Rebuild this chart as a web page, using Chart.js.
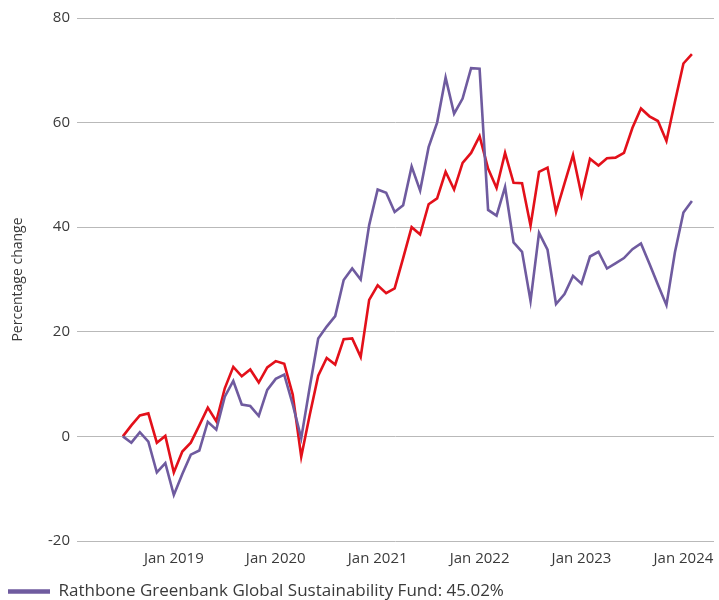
<!DOCTYPE html>
<html>
<head>
<meta charset="utf-8">
<title>Percentage change</title>
<script src="https://cdn.jsdelivr.net/npm/chart.js@4.4.1/dist/chart.umd.min.js"></script>
<style>
  html, body { margin: 0; padding: 0; background: #fff; overflow: hidden; }
  #wrap { width: 719px; height: 610px; }
</style>
</head>
<body>
<div id="wrap"><canvas id="chart"></canvas></div>
<script>
// Month-end values, Jun 2018 .. Jan 2024 (percentage change since start)
const startYear = 2018;
const startMonth = 7; // first point sits on the 1 Jul 2018 boundary

const fundLabel = 'Rathbone Greenbank Global Sustainability Fund: 45.02%';
const benchmarkLabel = 'Benchmark';

const fundValues = [
  0, -1.2, 0.8, -1.0, -6.9, -5.1, -11.2, -7.2, -3.5, -2.7, 2.8, 1.3,
  7.6, 10.6, 6.1, 5.8, 3.9, 8.9, 11.0, 11.8, 6.1, -0.35, 9.4, 18.7,
  21.0, 23.0, 29.9, 32.1, 30.0, 40.4, 47.2, 46.6, 42.9, 44.2, 51.6, 47.0,
  55.3, 60.0, 68.6, 61.7, 64.6, 70.4, 70.3, 43.3, 42.2, 47.7, 37.1, 35.3,
  25.9, 38.9, 35.7, 25.3, 27.2, 30.7, 29.2, 34.4, 35.3, 32.1, 33.1, 34.1,
  35.8, 36.9, 33.0, 29.0, 25.1, 35.2, 42.8, 45.0
];

const benchmarkValues = [
  0, 2.1, 4.0, 4.4, -1.2, 0.1, -6.9, -2.9, -1.2, 2.1, 5.5, 2.9,
  9.2, 13.3, 11.5, 12.8, 10.3, 13.2, 14.4, 13.9, 8.0, -3.9, 4.1, 11.6,
  15.0, 13.75, 18.6, 18.75, 15.2, 26.1, 28.9, 27.4, 28.3, 34.1, 40.0, 38.6,
  44.4, 45.5, 50.6, 47.2, 52.3, 54.2, 57.4, 51.2, 47.5, 54.2, 48.5, 48.4,
  40.3, 50.6, 51.4, 42.9, 48.4, 53.8, 46.1, 53.1, 51.8, 53.2, 53.3, 54.2,
  59.0, 62.7, 61.2, 60.3, 56.5, 64.0, 71.3, 73.1
];

const xTickLabels = ['Jan 2019', 'Jan 2020', 'Jan 2021', 'Jan 2022', 'Jan 2023', 'Jan 2024'];
const yTickValues = [-20, 0, 20, 40, 60, 80];

const monthNames = ['Jan', 'Feb', 'Mar', 'Apr', 'May', 'Jun', 'Jul', 'Aug', 'Sep', 'Oct', 'Nov', 'Dec'];

// months elapsed from the start boundary to the first day of a "Mon YYYY" label
function monthOffset(label) {
    const parts = label.split(' ');
    const m = monthNames.indexOf(parts[0]) + 1;
    return (parseInt(parts[1]) - startYear) * 12 + (m - startMonth);
}

const xTickPositions = xTickLabels.map(monthOffset);

function toPoints(values) {
    return values.map((v, i) => ({ x: i, y: v }));
}

const fontFamily = '"Open Sans", "Noto Sans", sans-serif';
const textColor = '#3a3a3a';
const purple = '#6f5b9f';
const red = '#e3101a';

const ctx = document.getElementById('chart').getContext('2d');
new Chart(ctx, {
    type: 'line',
    data: {
        datasets: [{
            label: fundLabel,
            data: toPoints(fundValues),
            borderColor: purple,
            backgroundColor: purple,
            borderWidth: 2.6,
            pointRadius: 0,
            tension: 0
        }, {
            label: benchmarkLabel,
            data: toPoints(benchmarkValues),
            borderColor: red,
            backgroundColor: red,
            borderWidth: 2.6,
            pointRadius: 0,
            tension: 0
        }]
    },
    options: {
        responsive: true,
        maintainAspectRatio: false,
        animation: false,
        layout: { padding: { top: 18, right: 5, left: 0, bottom: 0 } },
        scales: {
            x: {
                type: 'linear',
                min: -5.4,
                max: 69.6,
                grid: { display: false },
                border: { display: false },
                afterBuildTicks: function(scale) {
                    scale.ticks = xTickPositions.map(v => ({ value: v }));
                },
                afterFit: function(scale) {
                    scale.height = 34;
                    scale.paddingLeft = 0;
                    scale.paddingRight = 0;
                },
                ticks: {
                    padding: 1,
                    color: textColor,
                    font: { family: fontFamily, size: 15 },
                    maxRotation: 0,
                    autoSkip: false,
                    callback: function(value) {
                        const idx = xTickPositions.indexOf(value);
                        return idx >= 0 ? xTickLabels[idx] : '';
                    }
                }
            },
            y: {
                min: yTickValues[0],
                max: yTickValues[yTickValues.length - 1],
                afterBuildTicks: function(scale) {
                    scale.ticks = yTickValues.map(v => ({ value: v }));
                },
                afterFit: function(scale) {
                    scale.width = 77;
                },
                grid: { color: '#b9b9b9', lineWidth: 1, drawTicks: false },
                border: { display: false },
                ticks: {
                    padding: 7,
                    color: textColor,
                    font: { family: fontFamily, size: 15 }
                },
                title: {
                    display: true,
                    text: 'Percentage change',
                    color: textColor,
                    padding: { top: 10, bottom: 0 },
                    font: { family: fontFamily, size: 14 }
                }
            }
        },
        plugins: {
            tooltip: { enabled: false },
            legend: {
                position: 'bottom',
                align: 'start',
                labels: {
                    padding: 8,
                    color: textColor,
                    font: { family: fontFamily, size: 17 },
                    usePointStyle: true,
                    pointStyle: 'line',
                    pointStyleWidth: 42,
                    filter: function(item) {
                        return item.datasetIndex === 0;
                    },
                    generateLabels: function(chart) {
                        const items = Chart.defaults.plugins.legend.labels.generateLabels(chart);
                        items.forEach(item => {
                            item.pointStyle = 'line';
                            item.lineWidth = 4.5;
                        });
                        return items;
                    }
                }
            }
        }
    }
});
</script>
</body>
</html>
